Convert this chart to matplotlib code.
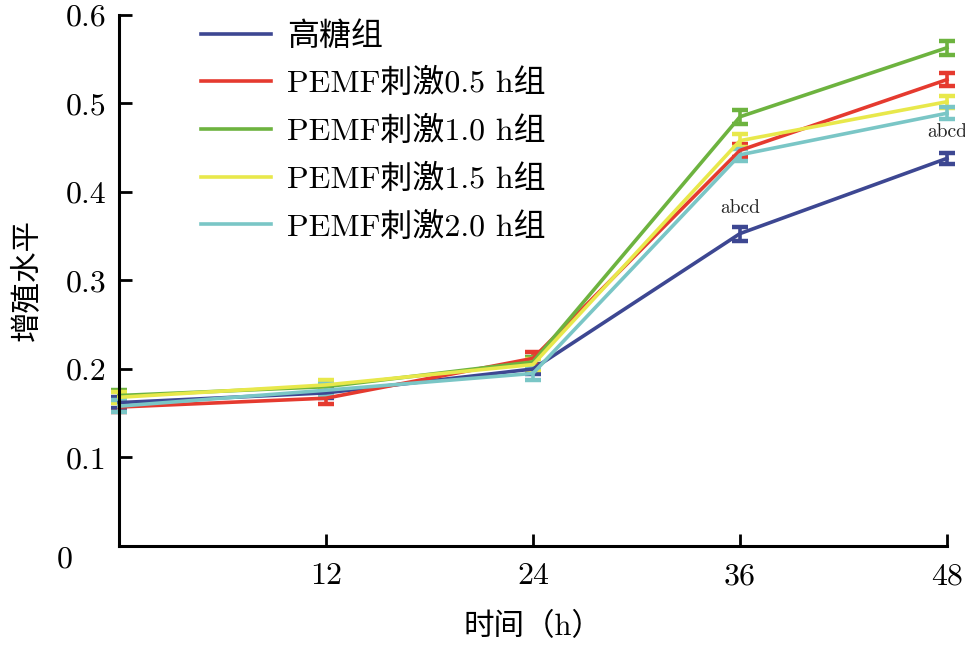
import matplotlib
matplotlib.use("Agg")
import matplotlib.pyplot as plt

plt.rcParams['font.family'] = ['cmr10', 'Noto Sans CJK SC', 'DejaVu Sans']
plt.rcParams['axes.unicode_minus'] = False

# data
hours = [0, 12, 24, 36, 48]
labels = ['高糖组', 'PEMF刺激0.5 h组', 'PEMF刺激1.0 h组', 'PEMF刺激1.5 h组', 'PEMF刺激2.0 h组']
colors = ['#3d4792', '#e53a2f', '#6db33f', '#e8e84b', '#7ac6c6']

hg = [0.162, 0.173, 0.200, 0.353, 0.438]
p05 = [0.157, 0.167, 0.212, 0.447, 0.527]
p10 = [0.170, 0.180, 0.208, 0.485, 0.563]
p15 = [0.168, 0.182, 0.205, 0.458, 0.502]
p20 = [0.158, 0.176, 0.195, 0.442, 0.489]

hg_err = [0.006, 0.006, 0.006, 0.008, 0.006]
p05_err = [0.006, 0.006, 0.007, 0.007, 0.007]
p10_err = [0.006, 0.006, 0.006, 0.008, 0.008]
p15_err = [0.006, 0.006, 0.006, 0.007, 0.007]
p20_err = [0.007, 0.007, 0.007, 0.007, 0.007]

series = [hg, p05, p10, p15, p20]
errors = [hg_err, p05_err, p10_err, p15_err, p20_err]

yticks = [0.1, 0.2, 0.3, 0.4, 0.5, 0.6]
ytick_labels = ['0.1', '0.2', '0.3', '0.4', '0.5', '0.6']
xticks = [12, 24, 36, 48]

fig = plt.figure(figsize=(9.65, 6.52), dpi=100)
ax = fig.add_axes([0.1233, 0.1626, 0.858, 0.8144])

lines = []
for y, e, c, lab in zip(series, errors, colors, labels):
    ax.errorbar(hours, y, yerr=e, color=c, lw=2.6, capsize=5.5, capthick=3.2,
                elinewidth=2.6, clip_on=False)
    ln, = ax.plot([], [], color=c, lw=2.6, label=lab)
    lines.append(ln)

ax.text(36, 0.372, 'abcd', ha='center', va='bottom', fontsize=14, color='#222222')
ax.text(48, 0.458, 'abcd', ha='center', va='bottom', fontsize=14, color='#222222')

ax.set_xlim(0, 48)
ax.set_ylim(0, 0.6)
ax.set_xticks(xticks)
ax.set_xticklabels([str(t) for t in xticks])
ax.set_yticks(yticks)
ax.set_yticklabels(ytick_labels)
ax.tick_params(direction='in', length=9, width=2, labelsize=23, pad=9)
ax.tick_params(axis='x', pad=12)
ax.text(-0.056, -0.026, '0', transform=ax.transAxes, fontsize=23, ha='right', va='center')

for s in ['top', 'right']:
    ax.spines[s].set_visible(False)
for s in ['left', 'bottom']:
    ax.spines[s].set_linewidth(2.2)

ax.set_xlabel('时间（h）', fontsize=22, labelpad=16)
ax.set_ylabel('增殖水平', fontsize=22, labelpad=17)

ax.legend(handles=lines, loc='upper left', bbox_to_anchor=(0.064, 1.043), frameon=False,
          fontsize=23, handlelength=2.2, handletextpad=0.5, labelspacing=0.55)

fig.savefig('out.png', dpi=100)
